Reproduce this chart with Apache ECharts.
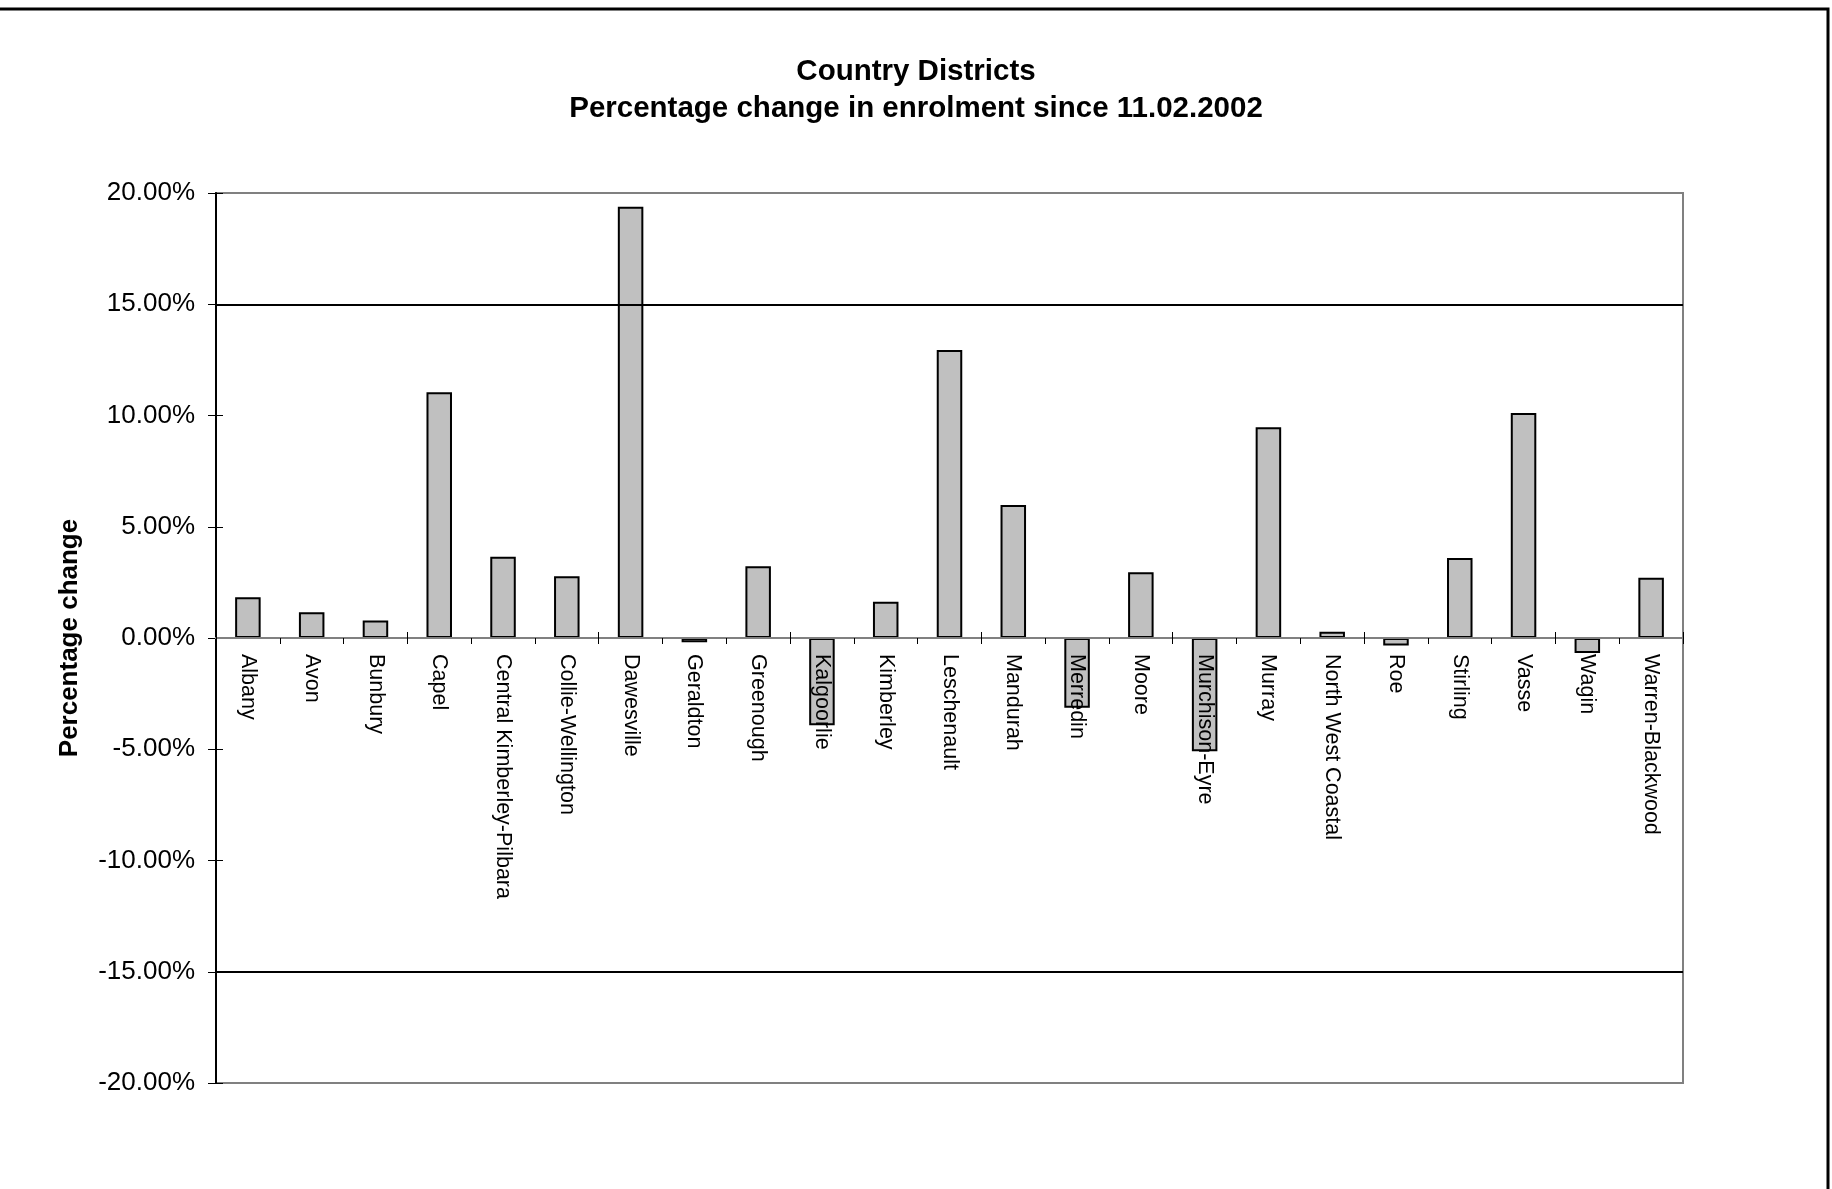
<!DOCTYPE html>
<html>
<head>
<meta charset="utf-8">
<script src="https://cdn.jsdelivr.net/npm/echarts@6/dist/echarts.min.js"></script>
<style>
html,body{margin:0;padding:0;background:#fff;}
#chart{width:1832px;height:1189px;}
</style>
</head>
<body>
<div id="chart"></div>
<script>
const categories = ["Albany","Avon","Bunbury","Capel","Central Kimberley-Pilbara","Collie-Wellington","Dawesville","Geraldton","Greenough","Kalgoorlie","Kimberley","Leschenault","Mandurah","Merredin","Moore","Murchison-Eyre","Murray","North West Coastal","Roe","Stirling","Vasse","Wagin","Warren-Blackwood"];
const percentChange = [1.83,1.16,0.79,11.05,3.65,2.77,19.38,-0.19,3.22,-3.92,1.63,12.94,5.98,-3.14,2.96,-5.09,9.47,0.28,-0.34,3.59,10.11,-0.67,2.71];
const referenceLines = [15,-15];
const yMin = -20, yMax = 20, yStep = 5;
const titleLines = ["Country Districts","Percentage change in enrolment since 11.02.2002"];
const yAxisName = "Percentage change";

const FONT = '"Liberation Sans", Arial, sans-serif';
const GRID = {left:216, right:149, top:193, bottom:106};
const W = 1832, H = 1189;
const plotW = W - GRID.left - GRID.right;
const plotH = H - GRID.top - GRID.bottom;
// zero sits at the vertical middle of the symmetric value range
const zeroOffset = plotH * (0 - yMin) / (yMax - yMin);

const chart = echarts.init(document.getElementById('chart'), null, {renderer:'canvas'});
const fmt = v => v.toFixed(2) + '%';

const option = {
  backgroundColor:'#fff',
  animation:false,
  title:{
    text: titleLines.join('\n'),
    left:'center', top:48,
    textStyle:{fontFamily:FONT,fontSize:29.5,fontWeight:'bold',color:'#000',lineHeight:37}
  },
  graphic:[{
    type:'polyline',
    shape:{points:[[0,9],[1828,9],[1828,1189]]},
    style:{stroke:'#000',lineWidth:3,fill:null}
  }],
  grid:Object.assign({show:true,borderColor:'#808080',borderWidth:2,backgroundColor:'transparent',containLabel:false,outerBoundsMode:'none'}, GRID),
  xAxis:[{
    type:'category', data:categories, position:'bottom', offset:-zeroOffset, z:10,
    axisLine:{onZero:false,lineStyle:{color:'#808080',width:2}},
    axisTick:{show:true,alignWithLabel:false,length:6,lineStyle:{color:'#000',width:1}},
    axisLabel:{rotate:-90,margin:16,interval:0,fontFamily:FONT,fontSize:21.5,color:'#000'},
    splitLine:{show:false}
  },{
    type:'category', data:categories, position:'top', offset:-(plotH - zeroOffset), z:10,
    axisLine:{onZero:false,lineStyle:{color:'#808080',width:2}},
    axisTick:{show:true,alignWithLabel:false,length:6,lineStyle:{color:'#000',width:1}},
    axisLabel:{show:false},
    splitLine:{show:false}
  }],
  yAxis:[{
    type:'value', min:yMin, max:yMax, interval:yStep, position:'left',
    name:yAxisName, nameLocation:'middle', nameGap:133,
    nameTextStyle:{fontFamily:FONT,fontSize:26,fontWeight:'bold',color:'#000'},
    axisLine:{show:true,onZero:false,lineStyle:{color:'#000',width:2}},
    axisTick:{show:true,length:8,lineStyle:{color:'#000',width:1}},
    axisLabel:{margin:21,formatter:fmt,fontFamily:FONT,fontSize:26,color:'#000'},
    splitLine:{show:false}
  },{
    type:'value', min:yMin, max:yMax, interval:yStep, position:'right', offset:-plotW,
    axisLine:{show:false,onZero:false},
    axisTick:{show:true,length:7,lineStyle:{color:'#000',width:1}},
    axisLabel:{show:false},
    splitLine:{show:false}
  }],
  series:[{
    type:'bar', xAxisIndex:0, yAxisIndex:0,
    data:percentChange,
    barCategoryGap:'60%',
    itemStyle:{color:'#C0C0C0',borderColor:'#000',borderWidth:2},
    markLine:{
      silent:true, symbol:['none','none'],
      label:{show:false},
      lineStyle:{color:'#000',width:2,type:'solid'},
      data:referenceLines.map(v=>({yAxis:v}))
    }
  }]
};
chart.setOption(option);
</script>
</body>
</html>
